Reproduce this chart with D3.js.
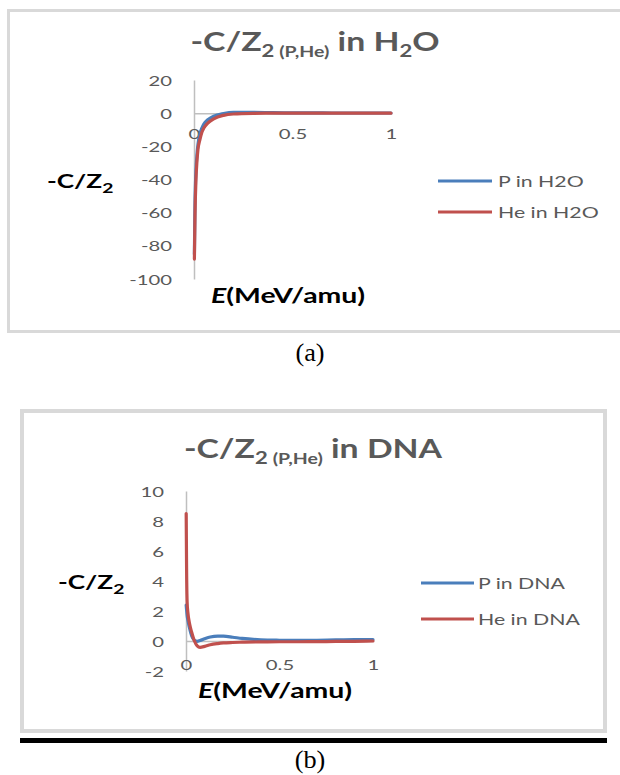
<!DOCTYPE html>
<html><head><meta charset="utf-8">
<script src="https://cdn.jsdelivr.net/npm/d3@7"></script>
<style>
html,body{margin:0;padding:0;background:#fff;}
svg{display:block;}
text{white-space:pre;}
</style></head>
<body>
<script>
// ---------- DATA ----------
const seriesNamesH2O = ["P in H2O", "He in H2O"];
const h2oE   = [0.002, 0.005, 0.01, 0.015, 0.02, 0.03, 0.04, 0.05, 0.07, 0.1, 0.15, 0.2, 0.3, 0.4, 0.5, 0.6, 0.7, 0.8, 0.9, 1.0];
const pH2O   = [-85, -55, -35, -25, -19, -12.5, -9, -6.5, -4, -1.8, -0.2, 0.5, 0.5, 0.3, 0.2, 0.15, 0.1, 0.1, 0.1, 0.1];
const heH2O  = [-88, -62, -40, -29, -22, -16, -11.5, -9, -6, -3.4, -1.3, -0.5, -0.1, 0, 0, 0, 0, 0, 0, 0];
const yTicksH2O = [20, 0, -20, -40, -60, -80, -100];

const seriesNamesDNA = ["P in DNA", "He in DNA"];
const dnaE   = [0.001, 0.003, 0.006, 0.01, 0.02, 0.03, 0.045, 0.06, 0.075, 0.1, 0.13, 0.17, 0.2, 0.25, 0.3, 0.4, 0.5, 0.6, 0.7, 0.8, 0.9, 1.0];
const pDNA   = [2.4, 2.1, 1.7, 1.4, 0.8, 0.35, 0.05, -0.02, 0.03, 0.15, 0.27, 0.33, 0.32, 0.25, 0.17, 0.08, 0.05, 0.04, 0.05, 0.07, 0.09, 0.1];
const heDNA  = [8.5, 5.0, 2.6, 1.9, 1.1, 0.6, 0.0, -0.32, -0.42, -0.36, -0.25, -0.17, -0.13, -0.1, -0.08, -0.06, -0.05, -0.05, -0.04, -0.03, -0.02, 0.0];
const yTicksDNA = [10, 8, 6, 4, 2, 0, -2];

const xTicks = [0, 0.5, 1];
const colors = ["#4a7ebb", "#c0504d"];

// ---------- DRAW ----------
const svg = d3.select("body").append("svg").attr("width", 620).attr("height", 775);
svg.append("rect").attr("width", 620).attr("height", 775).attr("fill", "#fff");

const FONT = "Lato, 'Open Sans', sans-serif";

function richText(g, x, y, anchor, sx, parts, fill) {
  const t = g.append("text")
    .attr("transform", `translate(${x},${y}) scale(${sx},1)`)
    .attr("text-anchor", anchor)
    .attr("font-family", FONT)
    .attr("font-weight", "bold")
    .attr("fill", fill);
  parts.forEach(p => {
    const ts = t.append("tspan").attr("font-size", p.size).text(p.t);
    if (p.dy) ts.attr("dy", p.dy);
    if (p.italic) ts.attr("font-style", "italic");
  });
  return t;
}

function chart(cfg) {
  const g = svg.append("g");
  g.append("rect")
    .attr("x", cfg.frame[0]).attr("y", cfg.frame[1])
    .attr("width", cfg.frame[2] - cfg.frame[0]).attr("height", cfg.frame[3] - cfg.frame[1])
    .attr("fill", "#fff").attr("stroke", "#d9d9d9").attr("stroke-width", cfg.frameW);

  const x = d3.scaleLinear().domain([0, 1]).range(cfg.xRange);
  const y = d3.scaleLinear().domain(cfg.yDomain).range(cfg.yRange);

  const ya = g.append("g").attr("transform", `translate(${cfg.xRange[0]},0)`)
    .call(d3.axisLeft(y).tickValues(cfg.yTicks).tickSize(0).tickSizeOuter(0).tickFormat(d => String(d)));
  ya.select(".domain").attr("stroke", "#bfbfbf").attr("stroke-width", 1.5);
  ya.selectAll("text")
    .attr("x", null).attr("dy", null)
    .attr("transform", `translate(${cfg.yLabelX - cfg.xRange[0]},5) scale(1.45,1)`)
    .attr("text-anchor", "end")
    .attr("font-family", FONT).attr("font-size", 14).attr("fill", "#595959");

  const xa = g.append("g").attr("transform", `translate(0,${y(0)})`)
    .call(d3.axisBottom(x).tickValues(xTicks).tickSize(0).tickSizeOuter(0).tickFormat(d => String(d)));
  xa.select(".domain").attr("stroke", "#bfbfbf").attr("stroke-width", 1.5);
  xa.selectAll("text")
    .attr("y", null).attr("dy", null)
    .attr("transform", `translate(0,${cfg.xLabelOff}) scale(1.45,1)`)
    .attr("text-anchor", "middle")
    .attr("font-family", FONT).attr("font-size", 14).attr("fill", "#595959");

  const line = d3.line().x(d => x(d[0])).y(d => y(d[1])).curve(d3.curveMonotoneX);
  cfg.series.forEach((s, i) => {
    g.append("path")
      .datum(cfg.E.map((e, k) => [e, s[k]]))
      .attr("d", line).attr("fill", "none")
      .attr("stroke", colors[i]).attr("stroke-width", 3.2)
      .attr("stroke-linejoin", "round").attr("stroke-linecap", "round");
  });

  richText(g, cfg.titleX, cfg.titleY, "middle", 1.3, [
    {t: "-C/Z", size: 26},
    {t: "2", size: 17, dy: 6},
    {t: " (P,He)", size: 15},
    {t: cfg.titleTail, size: 26, dy: -6}
  ].concat(cfg.titleExtra || []), "#595959");

  richText(g, cfg.yTitle[0], cfg.yTitle[1], "start", 1.38, [
    {t: "-C/Z", size: 19},
    {t: "2", size: 14, dy: 5}
  ], "#000");

  richText(g, cfg.xTitle[0], cfg.xTitle[1], "start", 1.42, [
    {t: "E", size: 20, italic: true},
    {t: "(MeV/amu)", size: 20}
  ], "#000");

  cfg.names.forEach((n, i) => {
    const ly = cfg.legend.y[i];
    g.append("line").attr("x1", cfg.legend.x1).attr("x2", cfg.legend.x2)
      .attr("y1", ly).attr("y2", ly).attr("stroke", colors[i]).attr("stroke-width", 3);
    g.append("text")
      .attr("transform", `translate(${cfg.legend.tx},${ly + 5.5}) scale(1.42,1)`)
      .attr("font-family", FONT).attr("font-size", 15).attr("fill", "#595959")
      .text(n);
  });
}

chart({
  frame: [8.5, 10.5, 630, 331.5], frameW: 3,
  xRange: [194, 391], yDomain: [-100, 20], yRange: [279, 80],
  yTicks: yTicksH2O, yLabelX: 172, xLabelOff: 26,
  E: h2oE, series: [pH2O, heH2O], names: seriesNamesH2O,
  titleX: 315, titleY: 51, titleTail: " in H",
  titleExtra: [{t: "2", size: 17, dy: 6}, {t: "O", size: 26, dy: -6}],
  yTitle: [47, 188], xTitle: [211, 303],
  legend: {x1: 438, x2: 492, tx: 498, y: [181, 212]}
});

chart({
  frame: [22, 411, 605, 731], frameW: 4,
  xRange: [186, 373], yDomain: [-2, 10], yRange: [671, 491],
  yTicks: yTicksDNA, yLabelX: 164, xLabelOff: 29,
  E: dnaE, series: [pDNA, heDNA], names: seriesNamesDNA,
  titleX: 313, titleY: 458, titleTail: " in DNA",
  yTitle: [58, 589], xTitle: [198, 698],
  legend: {x1: 421, x2: 474, tx: 478, y: [583, 619]}
});

svg.append("rect").attr("x", 20).attr("y", 738).attr("width", 587).attr("height", 5).attr("fill", "#000");

[["(a)", 310, 361], ["(b)", 310, 768]].forEach(c => {
  svg.append("text")
    .attr("transform", `translate(${c[1]},${c[2]}) scale(1.05,1)`)
    .attr("text-anchor", "middle")
    .attr("font-family", "'Liberation Serif', 'Times New Roman', serif")
    .attr("font-size", 25).attr("fill", "#000").text(c[0]);
});
</script>
</body></html>
